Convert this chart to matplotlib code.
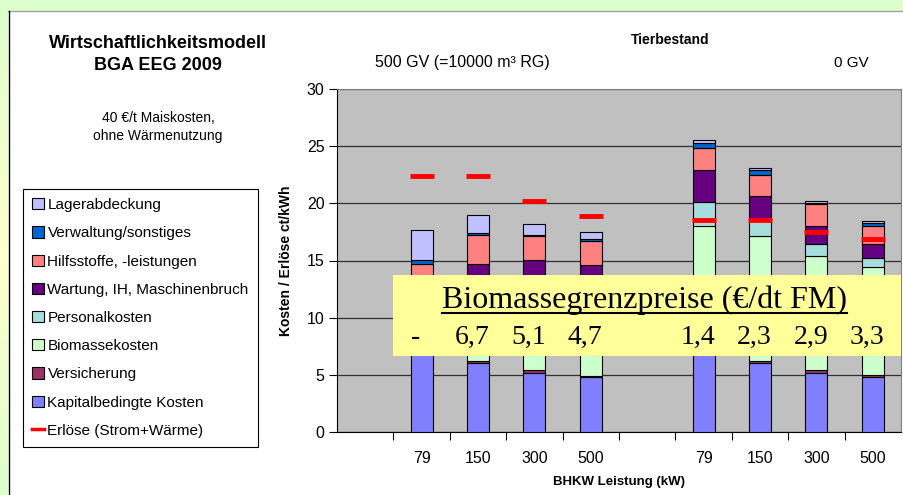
import numpy as np
import matplotlib
matplotlib.use('Agg')
import matplotlib.pyplot as plt
from matplotlib.patches import Patch, Rectangle
from matplotlib.lines import Line2D

plt.rcParams['font.family'] = ['Liberation Sans', 'DejaVu Sans']

# Kategorien (leere Slots trennen die zwei Gruppen)
slots = ['', '79', '150', '300', '500', '', '79', '150', '300', '500']
bar_pos = [1, 2, 3, 4, 6, 7, 8, 9]

# Kosten in ct/kWh, von unten nach oben gestapelt
kapital = [8.0, 6.0, 5.2, 4.8, 8.0, 6.0, 5.2, 4.8]
versicherung = [0.3, 0.2, 0.2, 0.1, 0.3, 0.2, 0.2, 0.15]
biomasse = [0.0, 5.2, 7.05, 7.7, 9.7, 10.9, 10.0, 9.5]
personal = [2.1, 1.4, 1.0, 0.75, 2.1, 1.4, 1.0, 0.75]
wartung = [2.8, 1.9, 1.6, 1.25, 2.8, 2.1, 1.6, 1.25]
hilfsstoffe = [1.5, 2.5, 2.05, 2.1, 1.95, 1.9, 1.9, 1.6]
verwaltung = [0.35, 0.2, 0.15, 0.15, 0.45, 0.4, 0.17, 0.25]
lager = [2.65, 1.6, 0.95, 0.65, 0.25, 0.2, 0.17, 0.15]
erloese = [22.4, 22.4, 20.2, 18.9, 18.5, 18.5, 17.5, 16.9]
grenzpreise = ['-', '6,7', '5,1', '4,7', '1,4', '2,3', '2,9', '3,3']

series = [
    ('Kapitalbedingte Kosten', kapital, '#8080FF'),
    ('Versicherung', versicherung, '#993366'),
    ('Biomassekosten', biomasse, '#CCFFCC'),
    ('Personalkosten', personal, '#A6DEDE'),
    ('Wartung, IH, Maschinenbruch', wartung, '#660080'),
    ('Hilfsstoffe, -leistungen', hilfsstoffe, '#FF8080'),
    ('Verwaltung/sonstiges', verwaltung, '#0066CC'),
    ('Lagerabdeckung', lager, '#C0C0FF'),
]

W, H = 904, 495
fig = plt.figure(figsize=(W / 100, H / 100), dpi=100)
fig.patch.set_facecolor('white')

# Rahmen / Hintergrund
fig.patches.append(Rectangle((0, 1 - 11 / H), 1, 11 / H, transform=fig.transFigure,
                             facecolor='#DDFFCC', edgecolor='none', zorder=0))
gax = fig.add_axes([0, 0, 8 / W, 1 - 11 / H])
grad = np.linspace(0, 1, 200)
g = np.abs(grad - 0.5) * 2
cols = np.zeros((200, 1, 3))
cols[:, 0, 0] = 1.0 - 0.13 * g
cols[:, 0, 1] = 1.0
cols[:, 0, 2] = 0.80
gax.imshow(cols, aspect='auto', extent=(0, 1, 0, 1))
gax.axis('off')
fig.lines.append(Line2D([8 / W, 1], [1 - 11 / H, 1 - 11 / H], transform=fig.transFigure,
                        color='#A0A0A0', lw=1))
fig.lines.append(Line2D([8.5 / W, 8.5 / W], [0, 1 - 11 / H], transform=fig.transFigure,
                        color='black', lw=1))

ax = fig.add_axes([337 / W, 1 - 432 / H, 564 / W, 343 / H])
ax.set_facecolor('#C0C0C0')

bottom = np.zeros(len(bar_pos))
for name, vals, col in series:
    ax.bar(bar_pos, vals, bottom=bottom, width=0.39, color=col,
           edgecolor='black', linewidth=0.8, zorder=3)
    bottom += np.array(vals)

ax.plot(bar_pos, erloese, linestyle='none', marker='_', markersize=17,
        markeredgewidth=3.5, color='red', zorder=4)

ax.set_xlim(-0.5, 9.5)
ax.set_ylim(0, 30)
ax.set_yticks(range(0, 31, 5))
ax.yaxis.grid(True, color='#303030', linewidth=0.9, zorder=1)
ax.set_axisbelow(True)
ax.set_xticks(np.arange(0.5, 9.5, 1.0))
ax.set_xticklabels([])
ax.set_xticks(range(10), minor=True)
ax.set_xticklabels(slots, minor=True)
ax.tick_params(axis='x', which='major', direction='out', length=6, width=0.8)
ax.tick_params(axis='x', which='minor', length=0, pad=14, labelsize=11.5)
ax.tick_params(axis='y', direction='out', length=6, width=0.8, labelsize=11.5, pad=3)
for s in ['top', 'right']:
    ax.spines[s].set_color('#808080')
for s in ['left', 'bottom']:
    ax.spines[s].set_color('black')

ax.set_ylabel('Kosten / Erlöse ct/kWh', fontsize=10, fontweight='bold', labelpad=10)
ax.set_xlabel('BHKW Leistung (kW)', fontsize=9.5, fontweight='bold', labelpad=7)

# gelbe Textbox
ax.add_patch(Rectangle((0.989 / 10, (432 - 355.7) / 343), 1 - 0.989 / 10, 80.7 / 343,
                       transform=ax.transAxes, facecolor='#FFFF99', edgecolor='none',
                       zorder=6))
ttl = ax.text(4.96, 11.5, 'Biomassegrenzpreise (€/dt FM)', ha='center', va='center',
              fontsize=23, family='Liberation Serif', zorder=7)
for xp, lab in zip(bar_pos, grenzpreise):
    ax.text(xp - 0.1, 8.3, lab, ha='center', va='center', fontsize=20,
            family='Liberation Serif', zorder=7)

# Texte oben
fig.text(158 / W, 1 - 44 / H, 'Wirtschaftlichkeitsmodell', ha='center', va='center',
         fontsize=13, fontweight='bold')
fig.text(158 / W, 1 - 66 / H, 'BGA EEG 2009', ha='center', va='center',
         fontsize=13, fontweight='bold')
fig.text(158 / W, 1 - 118 / H, '40 €/t Maiskosten,', ha='center', va='center', fontsize=10)
fig.text(158 / W, 1 - 136 / H, 'ohne Wärmenutzung', ha='center', va='center', fontsize=10)
fig.text(670 / W, 1 - 40 / H, 'Tierbestand', ha='center', va='center', fontsize=10,
         fontweight='bold')
fig.text(462 / W, 1 - 63 / H, '500 GV (=10000 m³ RG)', ha='center', va='center', fontsize=11.5)
fig.text(851 / W, 1 - 63 / H, '0 GV', ha='center', va='center', fontsize=11)

# Legende
handles = [Patch(facecolor=c, edgecolor='black', linewidth=0.8, label=n)
           for n, v, c in series[::-1]]
handles.append(Line2D([0], [0], color='red', lw=2.5, label='Erlöse (Strom+Wärme)'))
leg = fig.legend(handles=handles, loc='upper left', bbox_to_anchor=(23 / W, 1 - 189 / H),
                 fontsize=11, frameon=True, fancybox=False, framealpha=1,
                 edgecolor='black', handlelength=0.75, handleheight=0.75,
                 handletextpad=0.25, labelspacing=0.93, borderpad=0.6, borderaxespad=0)
leg.get_frame().set_linewidth(0.8)

# Unterstreichung des Box-Titels
fig.canvas.draw()
bb = ttl.get_window_extent().transformed(fig.transFigure.inverted())
fig.lines.append(Line2D([bb.x0, bb.x1], [bb.y0 + 2 / H, bb.y0 + 2 / H],
                        transform=fig.transFigure, color='black', lw=1.5, zorder=10))

fig.savefig('out.png', dpi=100)
